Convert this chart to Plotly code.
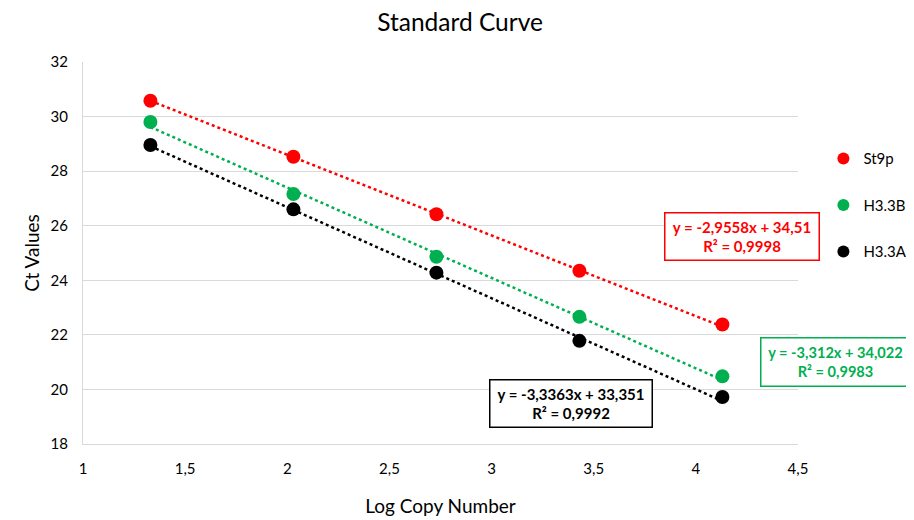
import numpy as np
import plotly.graph_objects as go

log_copy = [1.33, 2.03, 2.73, 3.43, 4.13]
series_names = ["St9p", "H3.3B", "H3.3A"]
ct_st9p = [30.58, 28.53, 26.42, 24.35, 22.38]
ct_h33b = [29.80, 27.16, 24.86, 22.66, 20.48]
ct_h33a = [28.96, 26.60, 24.28, 21.78, 19.72]
slopes = [-2.9558, -3.312, -3.3363]
intercepts = [34.51, 34.022, 33.351]
r2_values = ["0,9998", "0,9983", "0,9992"]
eq_labels = ["y = -2,9558x + 34,51", "y = -3,312x + 34,022", "y = -3,3363x + 33,351"]
colors = ["#FF0000", "#00B050", "#000000"]

series = [ct_st9p, ct_h33b, ct_h33a]
FONT = "Lato, Open Sans, sans-serif"

fig = go.Figure()
xs = np.array([log_copy[0], log_copy[-1]])
for name, ys, m, b, c in zip(series_names, series, slopes, intercepts, colors):
    fig.add_trace(go.Scatter(x=xs, y=m * xs + b, mode="lines",
                             line=dict(color=c, width=2.5, dash="dot"),
                             showlegend=False, hoverinfo="skip", legendgroup=name))
for name, ys, c in zip(series_names, series, colors):
    fig.add_trace(go.Scatter(x=log_copy, y=ys, mode="markers", name=name,
                             marker=dict(color=c, size=14), legendgroup=name))

# equation boxes (paper coords) with box sizes
box_pos = [(0.922, 0.543), (1.052, 0.215), (0.6825, 0.106)]
box_size = [(147, 40), (142, 41), (155, 40)]
box_font = [15, 14.6, 15]
for (px, py), (bw, bh), fs, eq, r2, c in zip(box_pos, box_size, box_font, eq_labels, r2_values, colors):
    fig.add_annotation(xref="paper", yref="paper", x=px, y=py, showarrow=False,
                       xanchor="center", yanchor="middle", width=bw, height=bh,
                       text=f"<b>{eq}</b><br><b>R² = {r2}</b>",
                       font=dict(family=FONT, size=fs, color=c),
                       bordercolor=c, borderwidth=1.5, borderpad=3,
                       bgcolor="white", align="center", valign="middle")

fig.update_layout(
    width=906, height=512,
    margin=dict(l=75, r=116, t=54, b=76),
    paper_bgcolor="white", plot_bgcolor="white",
    separators=", ",
    font=dict(family=FONT, size=14, color="#000000"),
    title=dict(text="Standard Curve", x=0.499, xanchor="center", y=0.9727, yanchor="middle",
               font=dict(family=FONT, size=24.5, color="#000")),
    legend=dict(xref="container", x=0.9, y=0.79, xanchor="left", yanchor="top",
                font=dict(family=FONT, size=15), tracegroupgap=24,
                itemsizing="constant", bgcolor="rgba(0,0,0,0)"),
    xaxis=dict(range=[1, 4.5], dtick=0.5, tick0=1, showgrid=False, automargin=False,
               showline=True, linecolor="#d9d9d9", linewidth=1, mirror=False,
               zeroline=False, ticks="", tickfont=dict(size=15), ticklabelstandoff=11,
               title=dict(text="Log Copy Number", font=dict(size=19), standoff=23)),
    yaxis=dict(range=[18, 32], dtick=2, showgrid=True, gridcolor="#d9d9d9", gridwidth=1,
               automargin=False,
               showline=True, linecolor="#d9d9d9", linewidth=1,
               zeroline=False, ticks="", tickfont=dict(size=15), ticklabelstandoff=11,
               title=dict(text="Ct Values", font=dict(size=19), standoff=5)),
)

fig.write_html("out.html")
